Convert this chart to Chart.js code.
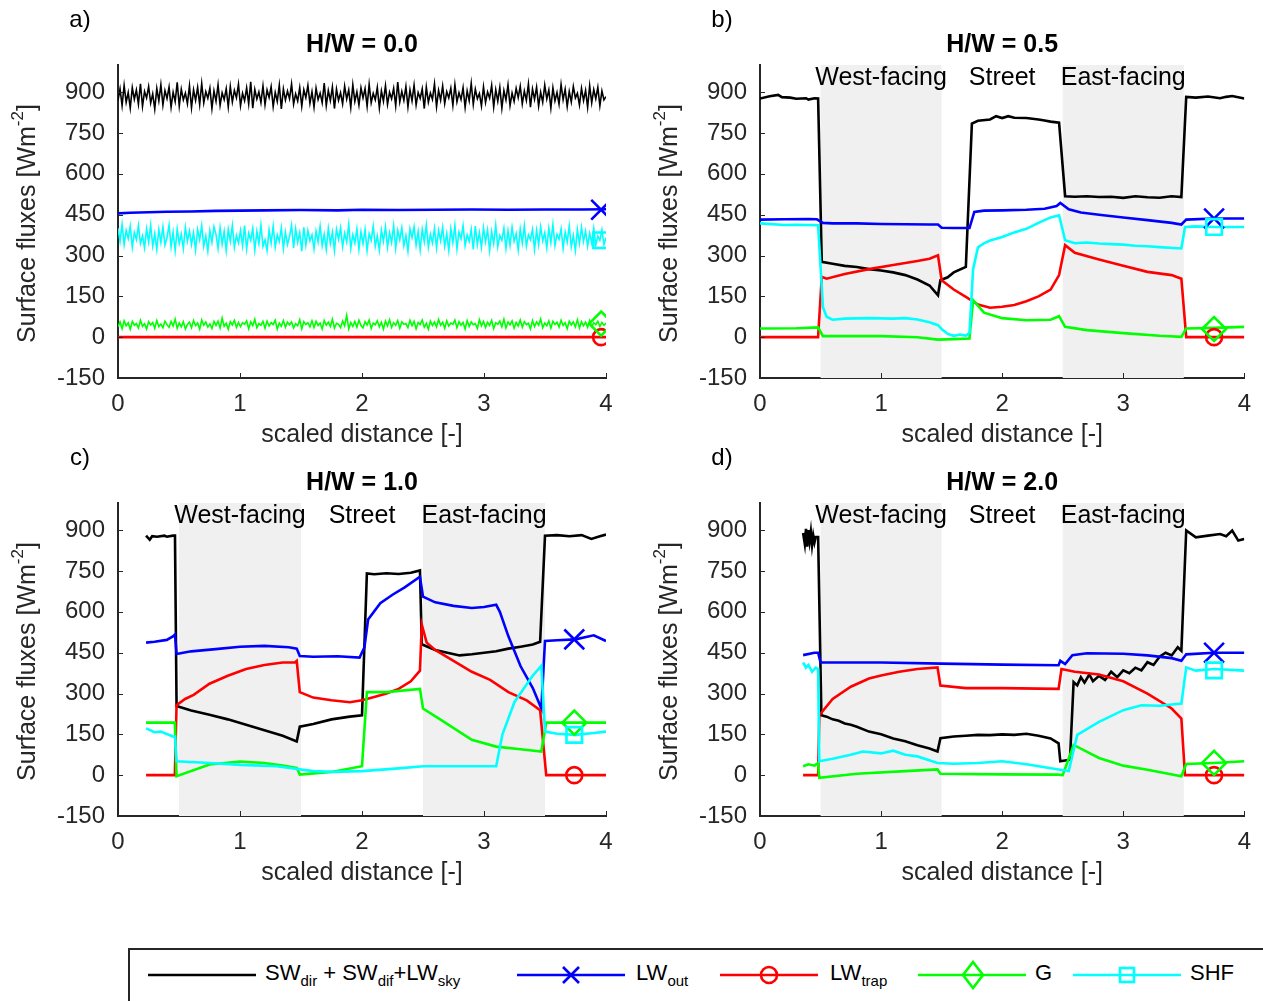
<!DOCTYPE html>
<html>
<head>
<meta charset="utf-8">
<script src="https://cdn.jsdelivr.net/npm/chart.js@4.4.1/dist/chart.umd.min.js"></script>
<style>
  body { margin: 0; width: 1263px; height: 1001px; overflow: hidden; background: #fff; position: relative;
         font-family: 'Liberation Sans', Arial, sans-serif; }
  canvas { position: absolute; }
  #legend { position: absolute; left: 128px; top: 948px; width: 1150px; height: 60px; box-sizing: border-box;
            border: 2px solid #262626; }
  #legend svg { position: absolute; top: 10px; }
  #legend .lab { position: absolute; top: 10px; font-size: 22px; color: #000; white-space: nowrap; }
  #legend sub { font-size: 15px; vertical-align: -6px; }
</style>
</head>
<body>
<canvas id="ca" width="640" height="450" style="left:0;top:0"></canvas>
<canvas id="cb" width="621" height="450" style="left:642px;top:0"></canvas>
<canvas id="cc" width="640" height="450" style="left:0;top:438px"></canvas>
<canvas id="cd" width="621" height="450" style="left:642px;top:438px"></canvas>

<div id="legend">
  <svg width="110" height="30" style="left:18px"><line x1="0" y1="15" x2="108" y2="15" stroke="#000" stroke-width="2.6"/></svg>
  <span class="lab" style="left:135px">SW<sub>dir</sub> + SW<sub>dif</sub>+LW<sub>sky</sub></span>
  <svg width="110" height="30" style="left:387px"><line x1="0" y1="15" x2="108" y2="15" stroke="#0000ff" stroke-width="2.6"/><path d="M46 7 L62 23 M62 7 L46 23" stroke="#0000ff" stroke-width="2.6"/></svg>
  <span class="lab" style="left:506px">LW<sub>out</sub></span>
  <svg width="110" height="30" style="left:590px"><line x1="0" y1="15" x2="98" y2="15" stroke="#ff0000" stroke-width="2.6"/><circle cx="49" cy="15" r="8" fill="none" stroke="#ff0000" stroke-width="2.6"/></svg>
  <span class="lab" style="left:700px">LW<sub>trap</sub></span>
  <svg width="110" height="30" style="left:788px"><line x1="0" y1="15" x2="108" y2="15" stroke="#00ff00" stroke-width="2.6"/><path d="M55 2 L65 15 L55 28 L45 15 Z" fill="none" stroke="#00ff00" stroke-width="2.6"/></svg>
  <span class="lab" style="left:905px">G</span>
  <svg width="110" height="30" style="left:943px"><line x1="0" y1="15" x2="108" y2="15" stroke="#00ffff" stroke-width="2.6"/><rect x="47" y="8" width="14" height="14" fill="none" stroke="#00ffff" stroke-width="2.6"/></svg>
  <span class="lab" style="left:1060px">SHF</span>
</div>

<script>
// ---- data ----
const panelLabels = ['a)', 'b)', 'c)', 'd)'];
const panelTitles = ['H/W = 0.0', 'H/W = 0.5', 'H/W = 1.0', 'H/W = 2.0'];
const yTicks = [-150, 0, 150, 300, 450, 600, 750, 900];
const regionNames = ['West-facing', 'Street', 'East-facing'];
const regionX = [1, 2, 3];
const shadeFrom = [0.5, 2.5];
const shadeTo = [1.5, 3.5];

// panel a (evenly spaced samples over 0..4)
const aSky = [
  870,912,851,925,863,899,842,917,874,908,856,931, 848,903,879,921,860,894,838,914,868,928,853,906,
  877,919,845,900,866,936,849,911,872,897,858,924, 843,909,870,918,855,932,861,902,878,915,840,905,
  867,927,852,898,873,913,846,921,864,907,880,929, 850,896,869,916,857,938,841,910,875,901,862,923,
  854,908,881,920,847,899,866,926,839,912,871,904, 876,930,856,894,868,917,848,909,880,925,859,902,
  845,915,873,897,862,934,851,906,869,919,840,911, 870,898,857,922,875,908,844,927,866,901,853,916,
  879,913,848,929,861,896,872,918,842,905,867,924, 855,900,876,914,850,937,864,903,870,921,846,909,
  868,926,853,899,877,912,840,919,863,897,874,931, 847,907,871,923,858,902,879,915,852,928,865,898,
  873,917,844,905,869,933,855,911,876,895,849,920, 862,901,878,925,846,909,867,918,841,906,872,927,
  851,897,866,914,880,922,857,904,870,930,845,912, 874,919,849,900,863,926,875,908,842,916,868,899,
  856,929,872,911,847,903,864,921,879,896,853,914, 869,907,845,924,861,910,876,918,850,905,872,884
];
const aShf = [
  400,352,415,340,392,362,408,330,385,358,410,345, 372,328,398,350,412,335,380,322,395,348,405,338,
  366,412,332,386,318,398,344,378,326,404,352,390, 340,384,320,395,358,410,334,372,316,392,348,406,
  378,326,402,342,388,318,396,352,410,330,374,346, 392,336,410,324,382,356,400,320,388,344,412,334,
  358,318,394,346,408,330,376,352,402,326,386,340, 370,412,328,398,348,384,316,404,338,392,354,376,
  324,390,350,408,336,378,322,400,344,386,318,396, 360,402,332,382,350,414,326,376,346,398,322,388,
  344,396,318,380,356,408,334,372,320,394,352,406, 330,384,348,410,326,392,358,402,336,374,316,398,
  366,406,338,388,320,396,350,412,330,378,346,400, 328,392,354,404,334,380,318,398,348,410,324,386,
  362,410,336,376,352,396,322,408,340,384,330,402, 350,394,318,388,344,412,332,374,356,400,326,390,
  338,404,352,380,320,398,346,410,334,376,358,396, 322,392,340,406,354,384,328,400,348,414,336,378,
  360,398,326,386,350,408,332,374,318,396,344,404, 352,390,334,382,346,400,338,372,356,394,340,366
];
const aG = [
  38,56,31,60,42,53,29,58,44,50,34,62, 40,49,30,57,45,54,33,61,39,48,35,59,
  46,36,58,41,66,33,52,38,57,30,47,55, 35,61,42,52,30,63,44,56,37,49,32,58,
  43,59,34,70,40,51,29,57,45,62,36,54, 39,53,47,60,31,56,42,66,35,50,44,58,
  33,59,41,54,46,62,30,52,40,61,37,55, 45,56,34,50,42,64,31,57,46,53,38,60,
  36,58,43,52,30,61,44,55,39,66,33,51, 47,35,59,42,80,31,54,40,58,37,62,43,
  34,57,45,63,32,52,46,60,38,55,30,59, 41,64,36,53,44,61,33,56,47,50,35,62,
  42,58,31,54,46,63,37,51,29,59,43,56, 38,65,44,55,33,60,41,52,47,63,35,57,
  44,54,30,61,39,56,46,50,32,64,42,58, 36,55,43,62,31,53,47,59,38,66,34,56,
  45,60,33,54,41,63,37,57,46,51,30,61, 39,56,44,67,35,52,42,60,33,58,47,55,
  37,62,43,53,31,59,45,56,38,64,34,57, 42,55,36,61,40,53,46,58,39,54,44,52
];
const aOut = [[0,455],[0.1,457],[0.25,459],[0.4,461],[0.6,462],[0.8,464],[1.0,465],[1.2,466],[1.5,467],[1.8,466],
  [2.0,468],[2.3,467],[2.6,468],[2.9,469],[3.2,468],[3.5,469],[3.8,469],[4.0,470]];
const aTrap = [[0,0],[4,0]];

// panel b
const bSky = [[0,877],[0.08,885],[0.15,890],[0.18,882],[0.25,880],[0.3,876],[0.38,878],[0.4,873],[0.45,878],[0.48,877],
  [0.51,277],[0.6,270],[0.7,262],[0.8,258],[0.9,250],[1.0,245],[1.1,238],[1.2,228],[1.3,212],[1.4,190],[1.47,154],
  [1.49,209],[1.55,220],[1.6,238],[1.7,258],[1.75,785],[1.8,795],[1.9,800],[1.95,812],[2.0,805],[2.05,812],[2.1,806],
  [2.2,805],[2.3,800],[2.35,796],[2.4,792],[2.47,788],[2.52,518],[2.6,516],[2.7,518],[2.8,515],[2.9,516],[3.0,512],
  [3.1,518],[3.2,514],[3.3,512],[3.4,518],[3.48,515],[3.52,883],[3.6,880],[3.7,884],[3.8,878],[3.85,883],[3.9,886],[4.0,877]];
const bOut = [[0,432],[0.2,433],[0.4,434],[0.47,433],[0.52,420],[0.6,418],[0.8,418],[1.0,416],[1.2,415],[1.4,414],[1.47,414],
  [1.5,402],[1.6,401],[1.73,401],[1.77,460],[1.85,465],[2.0,466],[2.2,468],[2.35,472],[2.45,482],[2.48,493],[2.55,470],
  [2.65,458],[2.8,450],[3.0,440],[3.2,430],[3.4,420],[3.48,414],[3.52,432],[3.75,436],[4.0,436]];
const bTrap = [[0,0],[0.48,0],[0.51,222],[0.55,215],[0.7,232],[0.9,250],[1.1,265],[1.3,280],[1.4,288],[1.47,301],[1.5,209],
  [1.6,175],[1.7,148],[1.8,120],[1.9,108],[2.0,112],[2.1,118],[2.2,132],[2.3,150],[2.4,175],[2.47,228],[2.52,338],
  [2.6,310],[2.8,285],[3.0,262],[3.2,240],[3.4,228],[3.48,215],[3.52,0],[4.0,0]];
const bG = [[0,32],[0.3,33],[0.48,36],[0.52,4],[1.0,4],[1.3,0],[1.47,-9],[1.6,-7],[1.73,-5],[1.76,136],[1.85,90],[2.0,70],
  [2.2,62],[2.4,64],[2.47,77],[2.52,38],[2.7,26],[3.0,15],[3.3,5],[3.48,1],[3.52,32],[3.75,34],[4.0,38]];
const bShf = [[0,418],[0.2,412],[0.3,413],[0.48,411],[0.52,110],[0.55,75],[0.6,64],[0.7,68],[0.9,70],[1.1,68],[1.2,70],
  [1.3,65],[1.4,55],[1.47,44],[1.5,30],[1.55,12],[1.6,5],[1.65,10],[1.7,6],[1.73,15],[1.76,250],[1.8,330],[1.85,345],
  [1.9,355],[2.0,368],[2.1,385],[2.2,398],[2.3,420],[2.4,440],[2.47,448],[2.52,356],[2.6,345],[2.7,348],[2.8,344],
  [2.9,342],[3.0,340],[3.1,336],[3.2,334],[3.3,331],[3.48,326],[3.51,405],[3.6,407],[3.75,405],[4.0,405]];

// panel c
const cSky = [[0.23,880],[0.26,865],[0.28,878],[0.32,876],[0.38,880],[0.4,876],[0.45,880],[0.467,880],[0.48,254],[0.6,238],
  [0.75,222],[0.9,205],[1.05,185],[1.2,165],[1.35,145],[1.465,124],[1.49,178],[1.6,188],[1.75,205],[1.9,215],[2.0,220],
  [2.04,741],[2.1,738],[2.2,742],[2.3,739],[2.4,744],[2.475,752],[2.49,481],[2.6,460],[2.7,450],[2.8,440],[2.9,444],
  [3.0,450],[3.1,455],[3.2,465],[3.3,472],[3.4,480],[3.46,490],[3.5,880],[3.6,882],[3.7,878],[3.8,882],[3.88,868],
  [3.95,878],[4.0,884]];
const cOut = [[0.23,487],[0.3,490],[0.4,497],[0.45,510],[0.467,517],[0.48,445],[0.6,455],[0.8,463],[1.0,472],[1.2,475],
  [1.4,470],[1.465,465],[1.49,438],[1.6,435],[1.8,437],[1.98,432],[2.02,470],[2.05,572],[2.15,632],[2.25,663],[2.35,690],
  [2.475,729],[2.5,656],[2.6,635],[2.75,622],[2.9,614],[3.0,618],[3.1,626],[3.13,600],[3.2,510],[3.3,400],[3.4,320],
  [3.47,245],[3.5,493],[3.6,496],[3.75,499],[3.9,514],[4.0,493]];
const cTrap = [[0.23,0],[0.466,0],[0.48,257],[0.55,280],[0.62,295],[0.75,336],[0.9,365],[1.05,390],[1.2,405],[1.35,414],
  [1.45,414],[1.465,420],[1.49,305],[1.6,285],[1.75,275],[1.9,268],[2.0,275],[2.1,287],[2.2,300],[2.3,317],[2.4,345],
  [2.475,384],[2.49,553],[2.53,487],[2.6,460],[2.75,420],[2.9,380],[3.05,350],[3.2,305],[3.35,275],[3.46,239],[3.51,0],[4.0,0]];
const cG = [[0.23,193],[0.466,193],[0.48,-4],[0.75,39],[1.0,50],[1.2,45],[1.35,35],[1.465,27],[1.49,2],[1.75,12],[2.0,33],
  [2.04,305],[2.2,305],[2.475,317],[2.5,245],[2.65,202],[2.9,130],[3.1,105],[3.3,95],[3.47,87],[3.51,193],[3.75,193],[4.0,193]];
const cShf = [[0.23,172],[0.3,158],[0.35,160],[0.45,142],[0.467,142],[0.48,51],[0.75,45],[1.0,38],[1.3,33],[1.6,15],[1.75,12],
  [2.0,15],[2.3,25],[2.5,33],[2.75,33],[3.1,33],[3.15,148],[3.25,269],[3.4,366],[3.47,402],[3.5,160],[3.6,152],[3.75,148],
  [3.9,155],[4.0,160]];

// panel d
const dSky = [[0.356,890],[0.37,850],[0.38,905],[0.39,840],[0.40,900],[0.41,860],[0.42,895],[0.43,845],[0.44,880],[0.45,855],
  [0.46,875],[0.48,875],[0.507,220],[0.55,215],[0.6,205],[0.65,200],[0.7,190],[0.75,185],[0.8,178],[0.9,160],[1.0,150],
  [1.1,135],[1.2,125],[1.3,110],[1.4,98],[1.466,87],[1.49,136],[1.6,142],[1.7,145],[1.8,148],[1.9,147],[2.0,150],[2.1,148],
  [2.2,152],[2.3,145],[2.4,135],[2.466,117],[2.48,51],[2.56,57],[2.59,342],[2.62,330],[2.65,360],[2.68,340],[2.72,370],
  [2.75,345],[2.8,365],[2.85,350],[2.9,380],[2.95,360],[3.0,385],[3.05,375],[3.1,395],[3.15,385],[3.2,415],[3.25,405],
  [3.3,435],[3.35,450],[3.4,440],[3.45,470],[3.48,457],[3.52,899],[3.6,874],[3.7,880],[3.8,886],[3.85,878],[3.9,899],
  [3.95,862],[4.0,868]];
const dOut = [[0.356,441],[0.45,450],[0.48,450],[0.5,414],[1.0,414],[1.5,410],[2.0,406],[2.466,404],[2.48,420],[2.52,408],
  [2.58,441],[2.7,448],[3.0,446],[3.2,440],[3.4,430],[3.48,420],[3.52,444],[3.75,450],[4.0,450]];
const dTrap = [[0.356,0],[0.48,0],[0.49,220],[0.6,280],[0.75,325],[0.9,355],[1.0,366],[1.15,380],[1.3,390],[1.466,396],
  [1.49,329],[1.7,320],[2.0,320],[2.3,318],[2.466,317],[2.49,390],[2.6,380],[2.8,370],[3.0,345],[3.2,300],[3.4,245],
  [3.48,208],[3.51,0],[4.0,0]];
const dG = [[0.356,33],[0.4,40],[0.45,35],[0.48,45],[0.49,-10],[0.8,5],[1.2,15],[1.466,21],[1.49,5],[2.0,3],[2.466,2],
  [2.5,0],[2.59,111],[2.8,63],[3.0,35],[3.2,20],[3.48,-4],[3.52,41],[3.75,45],[4.0,51]];
const dShf = [[0.356,414],[0.38,395],[0.4,405],[0.43,380],[0.46,395],[0.48,390],[0.49,51],[0.6,60],[0.75,75],[0.85,87],
  [1.0,80],[1.1,90],[1.2,75],[1.3,69],[1.466,45],[1.6,42],[1.8,45],[2.0,51],[2.2,40],[2.466,21],[2.55,15],[2.62,148],
  [2.8,196],[3.0,239],[3.15,257],[3.3,255],[3.48,263],[3.52,396],[3.6,384],[3.75,390],[4.0,384]];

// single markers per panel
const markerX = [3.96, 3.75, 3.74, 3.75];
const markerOut = [468, 436, 499, 450];
const markerTrap = [0, 0, 0, 0];
const markerG = [50, 30, 193, 45];
const markerShf = [356, 405, 148, 385];

// ---- drawing ----
const FONT = "'Liberation Sans', Arial, sans-serif";
const AXIS = '#262626';
const COLORS = { sky: '#000000', out: '#0000ff', trap: '#ff0000', g: '#00ff00', shf: '#00ffff' };

const pairs = arr => arr.map(p => ({ x: p[0], y: p[1] }));
const spread = arr => arr.map((v, i) => ({ x: i * 4 / (arr.length - 1), y: v }));

function line(data, color, w) {
  return { data, borderColor: color, borderWidth: w || 2.6, pointRadius: 0, tension: 0, fill: false };
}
function marker(x, y, color, style, r) {
  return { data: [{ x, y }], showLine: false, pointStyle: style, pointRadius: r, borderColor: color,
           backgroundColor: 'rgba(0,0,0,0)', pointBorderWidth: 2.6 };
}

function decor(idx, shaded) {
  return {
    id: 'decor' + idx,
    beforeDatasetsDraw(chart) {
      if (!shaded) return;
      const { ctx, chartArea: a, scales: { x } } = chart;
      ctx.save();
      ctx.fillStyle = '#f0f0f0';
      shadeFrom.forEach((s, i) => {
        const x0 = x.getPixelForValue(s), x1 = x.getPixelForValue(shadeTo[i]);
        ctx.fillRect(x0, a.top, x1 - x0, a.bottom - a.top);
      });
      ctx.restore();
    },
    afterDraw(chart) {
      const { ctx, chartArea: a, scales: { x, y } } = chart;
      ctx.save();
      // inward tick marks
      ctx.strokeStyle = AXIS;
      ctx.lineWidth = 1;
      yTicks.forEach(v => {
        const py = Math.round(y.getPixelForValue(v)) + 0.5;
        ctx.beginPath(); ctx.moveTo(a.left, py); ctx.lineTo(a.left + 5, py); ctx.stroke();
      });
      [0, 1, 2, 3, 4].forEach(v => {
        const px = Math.round(x.getPixelForValue(v)) + 0.5;
        ctx.beginPath(); ctx.moveTo(px, a.bottom); ctx.lineTo(px, a.bottom - 5); ctx.stroke();
      });
      const cx = (a.left + a.right) / 2;
      ctx.fillStyle = '#000';
      ctx.textAlign = 'center';
      ctx.textBaseline = 'middle';
      ctx.font = '24px ' + FONT;
      ctx.fillText(panelLabels[idx], 80, 20);
      ctx.font = 'bold 25px ' + FONT;
      ctx.fillText(panelTitles[idx], cx, 45);
      ctx.fillStyle = AXIS;
      ctx.font = '25px ' + FONT;
      ctx.fillText('scaled distance [-]', cx, 435);
      if (shaded) {
        ctx.fillStyle = '#000';
        ctx.font = '25px ' + FONT;
        regionNames.forEach((n, i) => ctx.fillText(n, x.getPixelForValue(regionX[i]), 78));
      }
      // y axis title with superscript
      ctx.fillStyle = AXIS;
      ctx.translate(28, (a.top + a.bottom) / 2 + 2);
      ctx.rotate(-Math.PI / 2);
      ctx.textAlign = 'left';
      const p1 = 'Surface fluxes [Wm', p2 = '-2', p3 = ']';
      ctx.font = '25px ' + FONT;
      const w1 = ctx.measureText(p1).width, w3 = ctx.measureText(p3).width;
      ctx.font = '17px ' + FONT;
      const w2 = ctx.measureText(p2).width;
      let sx = -(w1 + w2 + w3) / 2;
      ctx.font = '25px ' + FONT;
      ctx.fillText(p1, sx, 0);
      ctx.font = '17px ' + FONT;
      ctx.fillText(p2, sx + w1, -10);
      ctx.font = '25px ' + FONT;
      ctx.fillText(p3, sx + w1 + w2, 0);
      ctx.restore();
    }
  };
}

function makeChart(id, idx, series, rightPad, shaded, noisy) {
  const [sky, out, trap, g, shf] = series;
  const mx = markerX[idx];
  const nw = noisy ? 1.6 : 2.6;
  const datasets = [
    marker(mx, markerShf[idx], COLORS.shf, 'rect', 11),
    marker(mx, markerG[idx], COLORS.g, 'rectRot', 12),
    marker(mx, markerTrap[idx], COLORS.trap, 'circle', 8),
    marker(mx, markerOut[idx], COLORS.out, 'crossRot', 14),
    line(shf, COLORS.shf, nw),
    line(g, COLORS.g, nw),
    line(trap, COLORS.trap),
    line(out, COLORS.out),
    line(sky, COLORS.sky, nw)
  ];
  new Chart(document.getElementById(id), {
    type: 'line',
    data: { datasets },
    options: {
      responsive: false,
      animation: false,
      events: [],
      layout: { padding: { left: 0, top: 65, right: rightPad, bottom: 0 } },
      plugins: { legend: { display: false }, tooltip: { enabled: false } },
      scales: {
        x: {
          type: 'linear', min: 0, max: 4,
          afterFit: s => { s.height = 72; },
          ticks: { stepSize: 1, color: AXIS, font: { family: FONT, size: 24 }, padding: 12, maxRotation: 0 },
          grid: { display: false, drawTicks: false },
          border: { color: AXIS, width: 2 }
        },
        y: {
          type: 'linear', min: -150, max: 1000,
          afterFit: s => { s.width = 118; },
          afterBuildTicks: s => { s.ticks = yTicks.map(v => ({ value: v })); },
          ticks: { color: AXIS, font: { family: FONT, size: 24 }, padding: 13 },
          grid: { display: false, drawTicks: false },
          border: { color: AXIS, width: 2 }
        }
      }
    },
    plugins: [decor(idx, shaded)]
  });
}

makeChart('ca', 0, [spread(aSky), pairs(aOut), pairs(aTrap), spread(aG), spread(aShf)], 34, false, true);
makeChart('cb', 1, [pairs(bSky), pairs(bOut), pairs(bTrap), pairs(bG), pairs(bShf)], 16, true, false);
makeChart('cc', 2, [pairs(cSky), pairs(cOut), pairs(cTrap), pairs(cG), pairs(cShf)], 34, true, false);
makeChart('cd', 3, [pairs(dSky), pairs(dOut), pairs(dTrap), pairs(dG), pairs(dShf)], 16, true, false);
</script>
</body>
</html>
